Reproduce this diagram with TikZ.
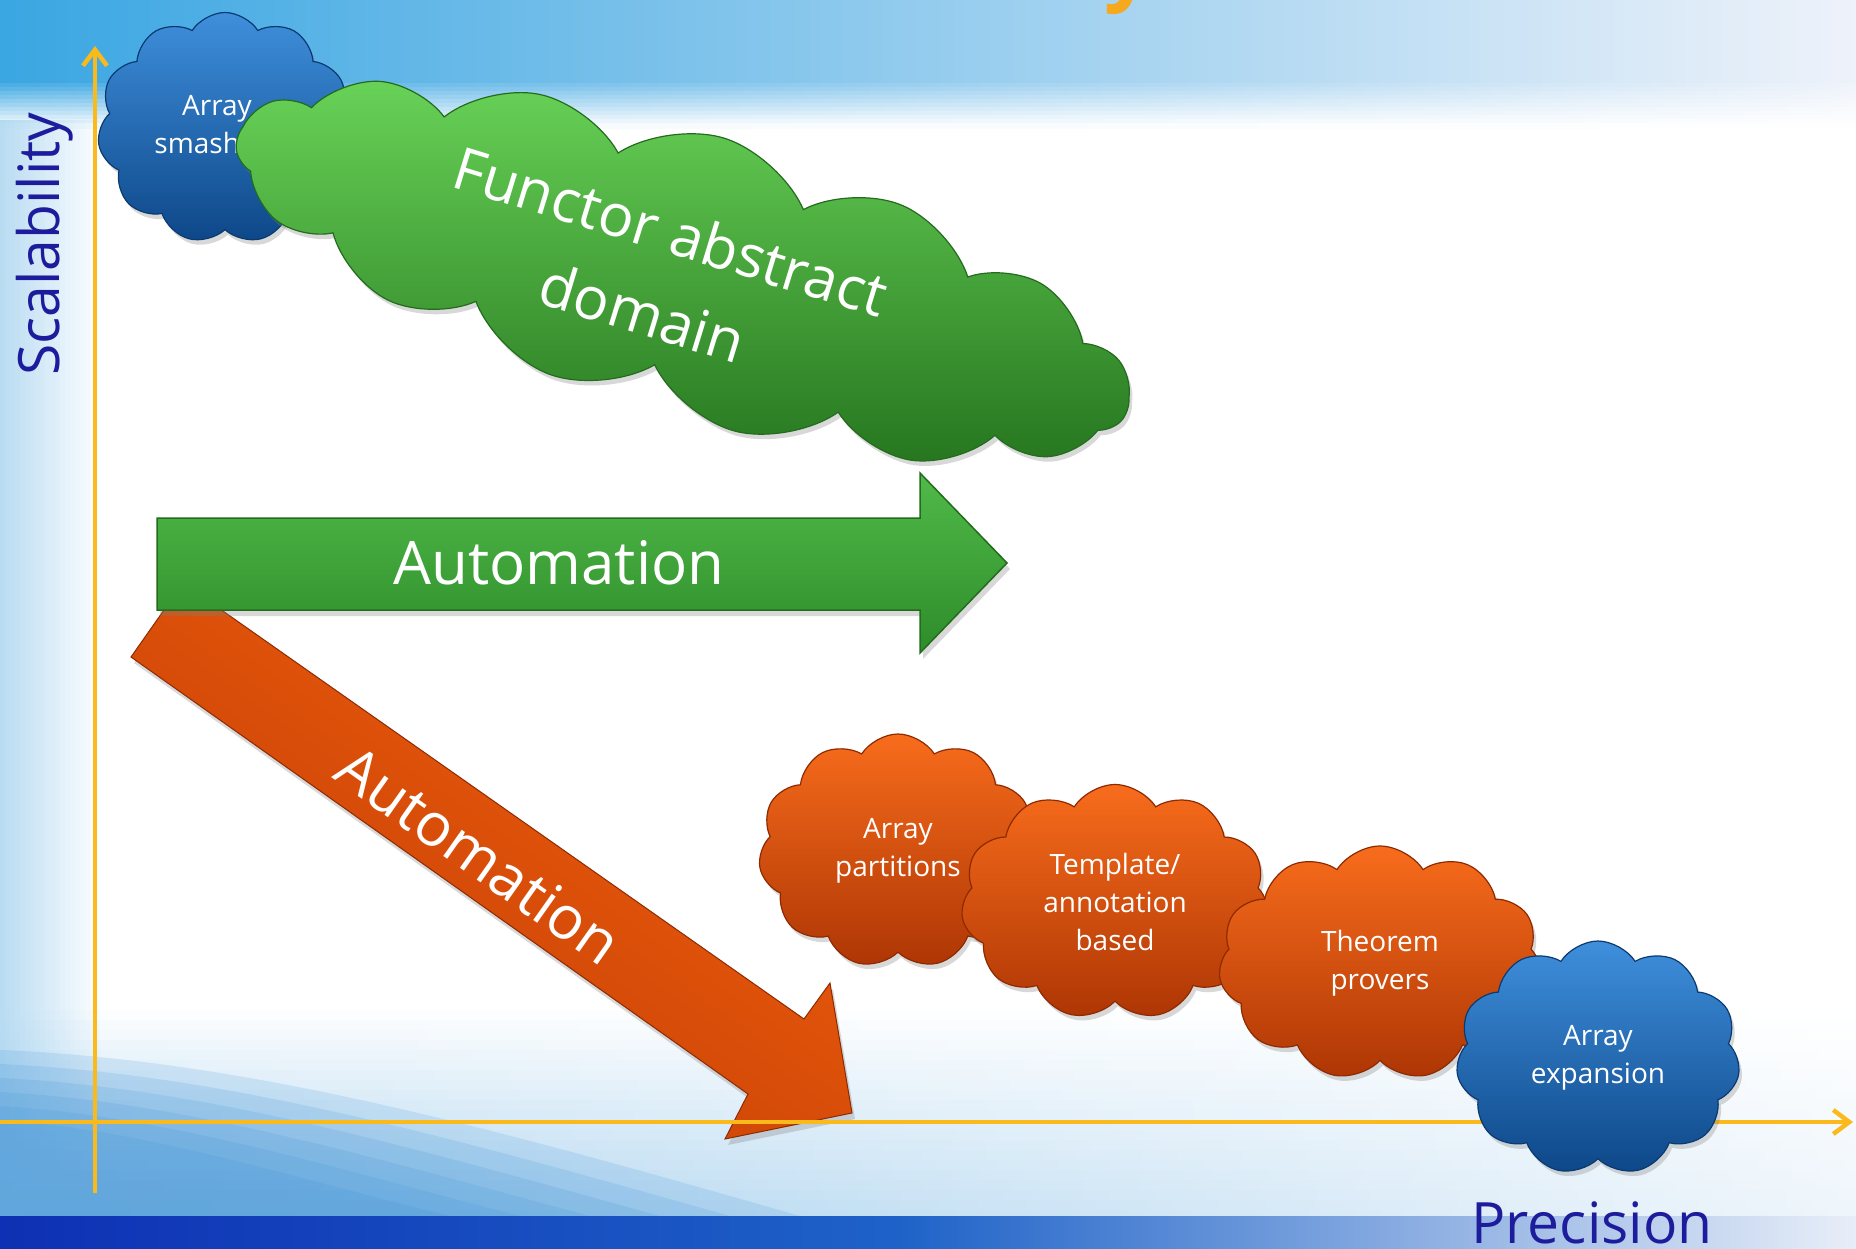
\documentclass[tikz,border=0pt]{standalone}
\usepackage{fontspec}
\setmainfont{Open Sans}
\usetikzlibrary{shapes.symbols,shadows,arrows.meta}
\definecolor{axisyellow}{HTML}{FBBA1B}
\definecolor{labelblue}{HTML}{1C1C9C}
\definecolor{bluetop}{HTML}{3F8FDC}
\definecolor{bluebot}{HTML}{0D4788}
\definecolor{bluedark}{HTML}{0A3A70}
\definecolor{orangetop}{HTML}{F86C1C}
\definecolor{orangebot}{HTML}{AE3604}
\definecolor{orangedark}{HTML}{8E2A02}
\definecolor{greentop}{HTML}{68D257}
\definecolor{greenbot}{HTML}{26761F}
\definecolor{greendark}{HTML}{236C1D}
\definecolor{garrowtop}{HTML}{50BA49}
\definecolor{garrowbot}{HTML}{2E8C2A}
\definecolor{oarrowa}{HTML}{F4600E}
\definecolor{oarrowb}{HTML}{BE3C04}
\definecolor{titleorange}{HTML}{F6A91D}
\definecolor{bgedge}{HTML}{A9D4F0}
\definecolor{topa}{HTML}{3AA6E2}
\definecolor{topb}{HTML}{7AA2D8}
\definecolor{topc}{HTML}{EEF2FA}
\definecolor{botl}{HTML}{9CCBEC}
\definecolor{botr}{HTML}{EEF5FB}
\definecolor{swoosh}{HTML}{3E92D6}
\definecolor{stripa}{HTML}{0E30B4}
\definecolor{stripb}{HTML}{1E62C8}
\definecolor{stripc}{HTML}{E8EEF8}
\begin{document}
\begin{tikzpicture}[x=1pt,y=-1pt,
  lbl/.style={text=labelblue, inner sep=0pt, font=\fontsize{57}{62}\selectfont},
  bigtext/.style={text=white, inner sep=0pt, align=center, font=\fontsize{60}{66}\selectfont},
  axisline/.style={draw=axisyellow, line width=4.5pt, -{Straight Barb[length=16pt,width=24pt]}},
  puff/.style={cloud, cloud puffs=11, cloud puff arc=115, aspect=1.2, inner sep=0pt,
    text=white, align=center, font=\fontsize{28}{38}\selectfont, line width=1.2pt,
    drop shadow={opacity=0.3, shadow xshift=3pt, shadow yshift=-5pt}},
  bluepuff/.style={puff, draw=bluedark, top color=bluetop, bottom color=bluebot},
  orangepuff/.style={puff, draw=orangedark, top color=orangetop, bottom color=orangebot},
  greenpuff/.style={puff, cloud puffs=15, cloud puff arc=100, aspect=3.3, draw=greendark, top color=greentop, bottom color=greenbot},
  garrow/.style={draw=greendark, line width=1.5pt, top color=garrowtop, bottom color=garrowbot,
    drop shadow={opacity=0.3, shadow xshift=3pt, shadow yshift=-6pt}},
  oarrow/.style={draw=orangedark, line width=1pt, top color=oarrowa, bottom color=oarrowb, shading angle=-35,
    drop shadow={opacity=0.3, shadow xshift=3pt, shadow yshift=-6pt}}
]
\useasboundingbox (0,0) rectangle (1856,1249);
\begin{scope}
\clip (0,0) rectangle (1856,1249);
% background
\fill[white] (0,0) rectangle (1856,1249);
\fill[left color=topa, middle color=topb, right color=topc] (0,0) rectangle (1856,80.5);
\foreach \k in {0,...,11} {
  \pgfmathtruncatemacro{\p}{100-8.5*\k}
  \fill[left color=topa!\p!white, middle color=topb!\p!white, right color=topc!\p!white] (0,{80+4*\k}) rectangle (1856,{84.6+4*\k});
}
\foreach \k in {0,...,21} {
  \pgfmathtruncatemacro{\p}{4.6*\k}
  \fill[left color=botl!\p!white, right color=botr!\p!white] (0,{1000+10*\k}) rectangle (1856,{1010.6+10*\k});
}
\foreach \k in {0,...,19} {
  \fill[bgedge, opacity={0.05*(20-\k)*0.8}] ({5*\k},120) rectangle ({5*\k+5},1216);
}
\foreach \k in {0,...,5} {
  \fill[swoosh, opacity=0.16] (0,{1050+14*\k}) .. controls ({250-20*\k},{1060+14*\k}) and ({500-40*\k},{1130+10*\k}) .. ({800-70*\k},1216) -- (0,1216) -- cycle;
}
\fill[left color=stripa, right color=stripb] (0,1216) rectangle (900,1249);
\fill[left color=stripb, right color=stripc] (899,1216) rectangle (1856,1249);
\node[text=titleorange, inner sep=0pt, anchor=base, font=\fontsize{84}{90}\selectfont\bfseries] (titley) at (1128,-5) {y};

% orange arrow
\path[oarrow] (183,583) -- (804,1019) -- (830,983) -- (852,1113) -- (725,1139) -- (748,1094) -- (131,657) -- cycle;
% green arrow
\path[garrow] (157,518) -- (920,518) -- (920,473) -- (1007,563) -- (920,653) -- (920,610) -- (157,610) -- cycle;
\node[bigtext] (autogreen) at (559,563) {Automation};
\node[bigtext, rotate=-35.2] (autoorange) at (479,855) {Automation};

% axes
\coordinate (yb) at (95,1193);
\coordinate (yt) at (95,46);
\coordinate (xl) at (0,1122);
\coordinate (xr) at (1853,1122);
\draw[axisline] (yb) -- (yt);
\draw[axisline] (xl) -- (xr);

% clouds
\node[bluepuff, minimum width=255pt, minimum height=231pt] (smash) at (225,128) {Array\hspace*{16pt}\\smashing\hspace*{16pt}};
\node[greenpuff, rotate=-17, minimum width=930pt, minimum height=280pt] (functor) at (683,272) {};
\node[bigtext, rotate=-17, font=\fontsize{59}{86}\selectfont] (functortext) at (658,272) {Functor abstract\\domain\hspace*{6pt}};

\node[orangepuff, minimum width=279pt, minimum height=234pt] (partitions) at (898,851) {Array\\partitions};
\node[orangepuff, minimum width=308pt, minimum height=235pt] (template) at (1115,902) {Template/\\annotation\\based};
\node[orangepuff, minimum width=323pt, minimum height=234pt] (theorem) at (1380,963) {Theorem\\provers};
\node[bluepuff, minimum width=284pt, minimum height=234pt] (expansion) at (1598,1058) {Array\\expansion};

% axis labels
\node[lbl, rotate=90] (scal) at (45,244) {Scalability};
\node[lbl, anchor=base] (prec) at (1592,1243) {Precision};
\end{scope}
\end{tikzpicture}
\end{document}
